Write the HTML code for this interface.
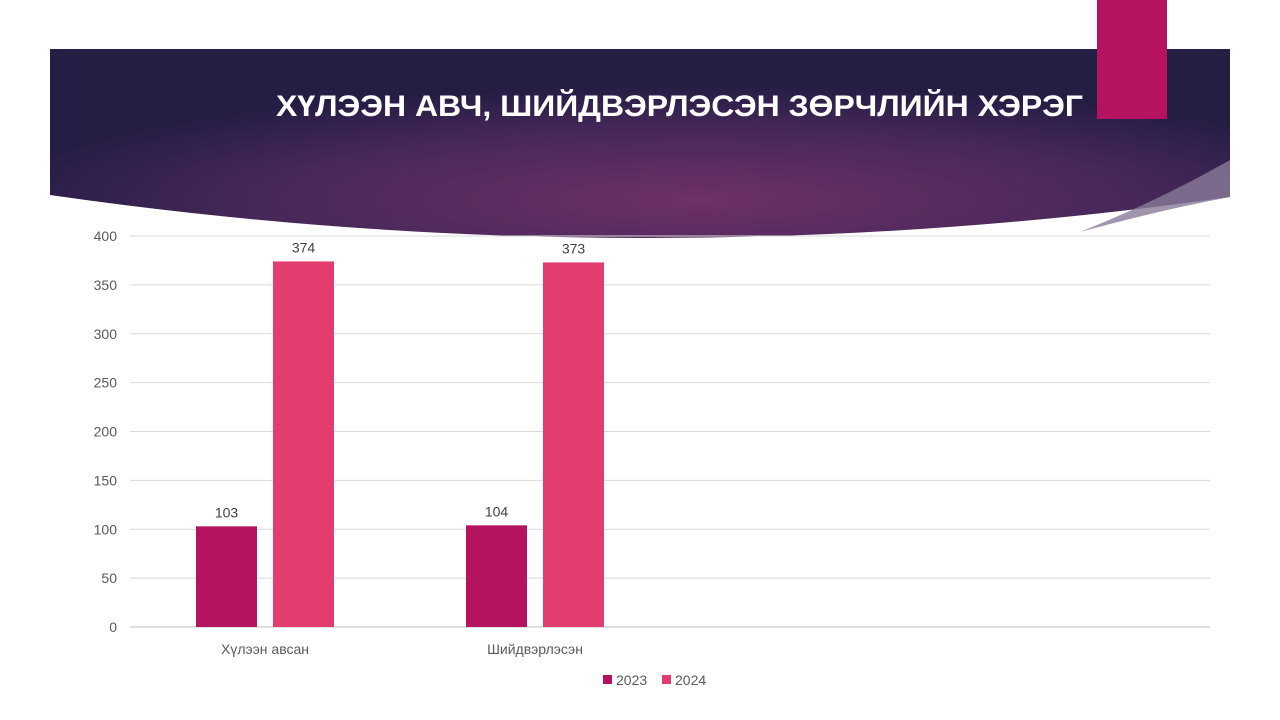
<!DOCTYPE html>
<html><head><meta charset="utf-8"><style>
html,body{margin:0;padding:0;background:#fff;}
svg{display:block;font-family:"Liberation Sans",sans-serif;}
</style></head><body>
<svg id="chart" width="1280" height="720" viewBox="0 0 1280 720">
<defs>
<radialGradient id="bg" cx="0.55" cy="0.8" r="0.6">
<stop offset="0" stop-color="#6e3068"/>
<stop offset="0.6" stop-color="#48285a"/>
<stop offset="1" stop-color="#261d45"/>
</radialGradient>
</defs>
<g>
<path d="M50,49 L1230,49 L1230,197 Q640,280 50,195 Z" fill="url(#bg)"/>
<path d="M1230,160 Q1160,200 1080,232 Q1160,210 1230,197 Z" fill="#8a7a9a" opacity="0.8"/>
</g>
<rect x="1097" y="0" width="70" height="119" fill="#b5135f"/>
<text x="276" y="116" font-family="'Liberation Sans Narrow','Liberation Sans',sans-serif" font-weight="bold" font-size="30" fill="#fff" textLength="807" lengthAdjust="spacingAndGlyphs">ХҮЛЭЭН АВЧ, ШИЙДВЭРЛЭСЭН ЗӨРЧЛИЙН ХЭРЭГ</text>
<g id="grid"></g><g id="bars"></g><g id="labels"></g>
<g>
<rect x="603" y="675" width="9" height="9" fill="#b5135f"/>
<text x="616" y="685" font-size="14" fill="#595959">2023</text>
<rect x="662" y="675" width="9" height="9" fill="#e33d6f"/>
<text x="675" y="685" font-size="14" fill="#595959">2024</text>
</g>
</svg>
<script>
const categories = ["Хүлээн авсан", "Шийдвэрлэсэн", "", ""];
const series2023 = [103, 104, null, null];
const series2024 = [374, 373, null, null];
const yTicks = [0, 50, 100, 150, 200, 250, 300, 350, 400];
const NS = "http://www.w3.org/2000/svg";
const x0 = 130, x1 = 1210, yBase = 627, yTop = 236, yMax = 400;
const y = v => yBase - (v / yMax) * (yBase - yTop);
const slot = (x1 - x0) / categories.length;
function mk(tag, attrs, parent, txt) {
  const e = document.createElementNS(NS, tag);
  for (const k in attrs) e.setAttribute(k, attrs[k]);
  if (txt !== undefined) e.textContent = txt;
  document.getElementById(parent).appendChild(e);
  return e;
}
yTicks.forEach(t => {
  const l = mk("line", {x1: x0, x2: x1, y1: y(t), y2: y(t), stroke: t === 0 ? "#bfbfbf" : "#d9d9d9", "stroke-width": 1}, "grid");
  
  
  const tx = mk("text", {x: 117, y: y(t) + 5, "text-anchor": "end", "font-size": 14, fill: "#595959"}, "grid", String(t));
  
  
});
const bw = 61, gap = 16;
categories.forEach((c, i) => {
  const cx = x0 + slot * (i + 0.5);
  [[series2023, "#b5135f", -1], [series2024, "#e33d6f", 1]].forEach(([s, col, side]) => {
    const v = s[i];
    if (v == null) return;
    const bx = side < 0 ? cx - gap / 2 - bw : cx + gap / 2;
    const r = mk("rect", {x: bx, y: y(v), width: bw, height: yBase - y(v), fill: col}, "bars");
    
    
    const t = mk("text", {x: bx + bw / 2, y: y(v) - 9, "text-anchor": "middle", "font-size": 14, fill: "#404040"}, "labels", String(v));
    
    
  });
  if (c) {
    const t = mk("text", {x: cx, y: 654, "text-anchor": "middle", "font-size": 14, fill: "#595959"}, "labels", c);
    
    
  }
});
</script>
</body></html>
